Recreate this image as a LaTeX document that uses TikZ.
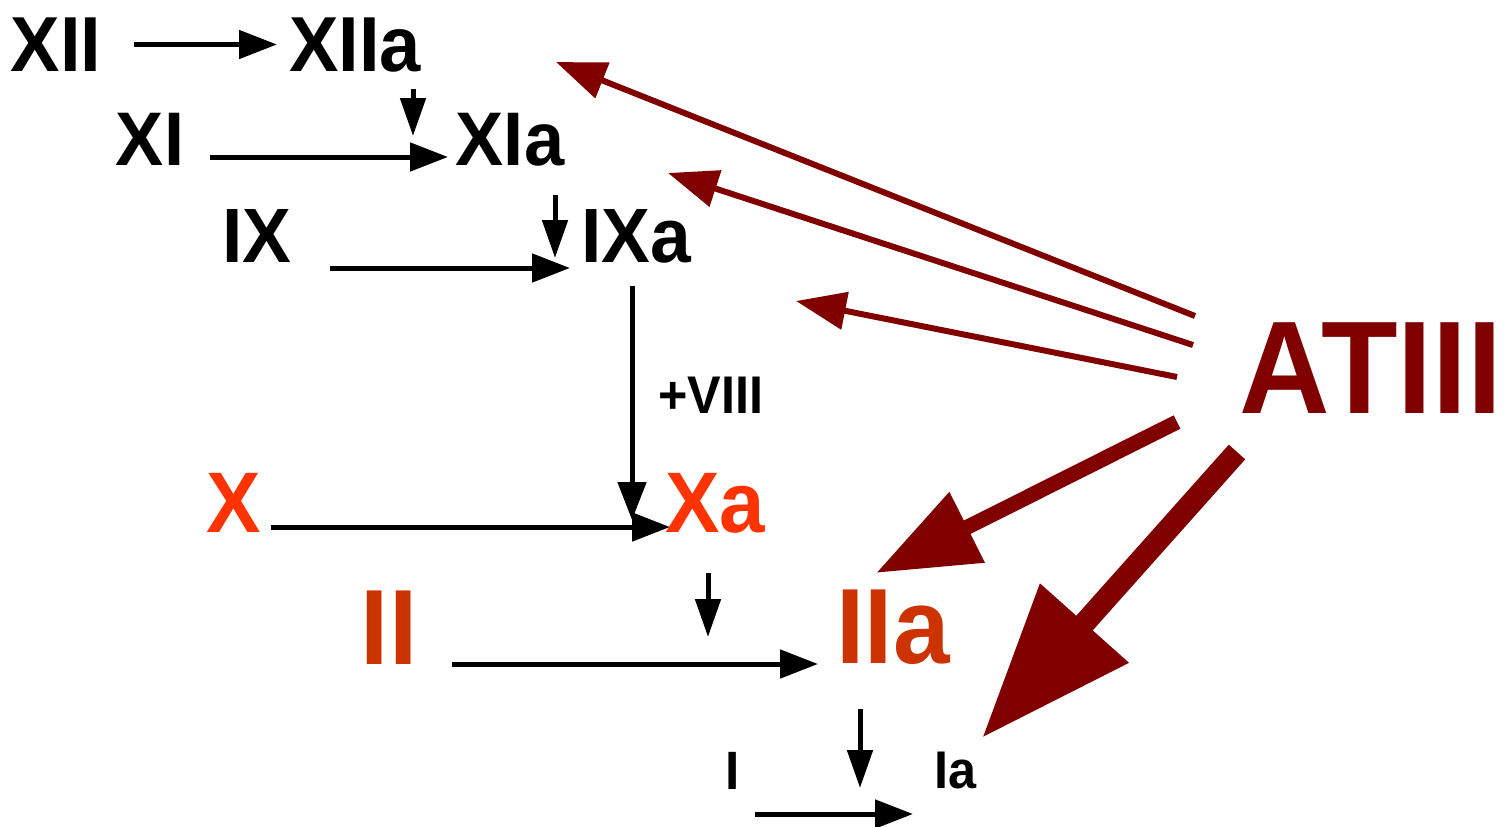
\documentclass[tikz,border=0pt]{standalone}
\usepackage{fontspec}
\setmainfont{Liberation Sans}[FakeStretch=0.95]
\usetikzlibrary{arrows.meta}
\definecolor{xred}{HTML}{FF3300}
\definecolor{iired}{HTML}{CC3300}
\definecolor{atred}{HTML}{800000}
\begin{document}
\begin{tikzpicture}[x=1pt,y=-1pt,
  lbl/.style={inner sep=0pt, anchor=base, font=\bfseries\fontsize{#1}{#1}\selectfont},
  blk/.style={line width=5pt, -{Triangle[length=38pt,width=28pt]}},
  blks/.style={line width=5pt, -{Triangle[length=38pt,width=25pt]}},
  inh/.style={atred, line width=6pt, -{Triangle[length=50pt,width=37pt]}},
  inhm/.style={atred, line width=15pt, -{Triangle[length=102pt,width=75pt]}},
  inhb/.style={atred, line width=22pt, -{Triangle[length=154pt,width=113pt]}}]
\useasboundingbox (0,0) rectangle (1505,827);
% factor labels
\node[lbl=78] (XII)  at (56,71)   {XII};
\node[lbl=78] (XIIa) at (355,71)  {XIIa};
\node[lbl=76] (XI)   at (150,165) {XI};
\node[lbl=76] (XIa)  at (510,165) {XIa};
\node[lbl=77] (IX)   at (257,262) {IX};
\node[lbl=77] (IXa)  at (636,262) {IXa};
\node[lbl=53] (VIII) at (711,413) {+VIII};
\node[lbl=86, text=xred] (X)  at (234,532) {X};
\node[lbl=86, text=xred] (Xa) at (715,532) {Xa};
\node[lbl=107, text=iired] (II)  at (389,664) {II};
\node[lbl=107, text=iired] (IIa) at (893,663) {IIa};
\node[lbl=54] (I)  at (733,789) {I};
\node[lbl=53] (Ia) at (955,788) {Ia};
\node[lbl=132, text=atred] (AT) at (1371,413) {ATIII};
% connector ends
\coordinate (xii-o)  at (134,44.5);
\coordinate (xiia-i) at (277,44.5);
\coordinate (xiia-o) at (413,89);
\coordinate (xiia-t) at (413,136);
\coordinate (xi-o)   at (210,157);
\coordinate (xia-i)  at (448,157);
\coordinate (xia-o)  at (555,195);
\coordinate (xia-t)  at (555,258);
\coordinate (ix-o)   at (330,268);
\coordinate (ixa-i)  at (570,268);
\coordinate (ixa-o)  at (632,286);
\coordinate (xa-t)   at (632,520);
\coordinate (x-o)    at (271,527);
\coordinate (xa-i)   at (670,527);
\coordinate (xa-o)   at (708,573);
\coordinate (xa-t2)  at (708,637);
\coordinate (ii-o)   at (452,664);
\coordinate (iia-i)  at (818,664);
\coordinate (iia-o)  at (860,709);
\coordinate (iia-t)  at (860,788);
\coordinate (i-o)    at (755,814);
\coordinate (ia-i)   at (913,814);
\coordinate (at-1) at (1195,316);
\coordinate (at-2) at (1193,345);
\coordinate (at-3) at (1177,377);
\coordinate (at-4) at (1177,422);
\coordinate (at-5) at (1237,452);
\coordinate (t-xiia) at (556,62);
\coordinate (t-xia)  at (668,173);
\coordinate (t-ixa)  at (796,301);
\coordinate (t-iia)  at (876,573);
\coordinate (t-ia)   at (982,738);
% cascade
\draw[blk]  (xii-o) -- (xiia-i);
\draw[blks] (xiia-o) -- (xiia-t);
\draw[blk]  (xi-o) -- (xia-i);
\draw[blks] (xia-o) -- (xia-t);
\draw[blk]  (ix-o) -- (ixa-i);
\draw[blk]  (ixa-o) -- (xa-t);
\draw[blk]  (x-o) -- (xa-i);
\draw[blks] (xa-o) -- (xa-t2);
\draw[blk]  (ii-o) -- (iia-i);
\draw[blks] (iia-o) -- (iia-t);
\draw[blk]  (i-o) -- (ia-i);
% antithrombin inhibition
\draw[inh]  (at-1) -- (t-xiia);
\draw[inh]  (at-2) -- (t-xia);
\draw[inh]  (at-3) -- (t-ixa);
\draw[inhm] (at-4) -- (t-iia);
\draw[inhb] (at-5) -- (t-ia);
\end{tikzpicture}
\end{document}
